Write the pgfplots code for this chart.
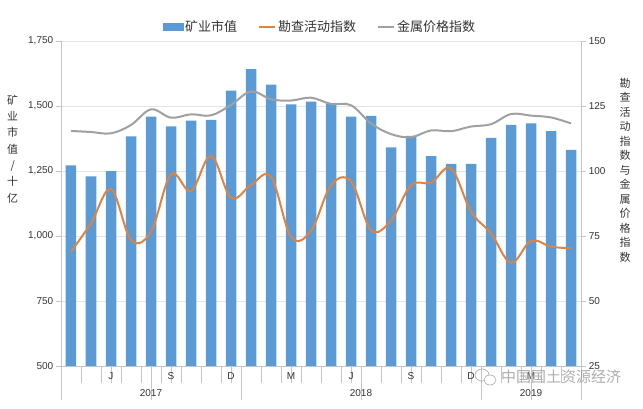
\documentclass[border=0pt]{standalone}
\usepackage{fontspec}
\setmainfont{Liberation Sans}
\newfontfamily\cjk{Noto Sans CJK SC}
\usepackage{pgfplots}
\pgfplotsset{compat=1.18}
\definecolor{barblue}{HTML}{5B9BD5}
\definecolor{lineorange}{HTML}{DC8443}
\definecolor{linegray}{HTML}{A0A0A0}
\definecolor{gridc}{HTML}{E4E4E4}
\definecolor{axc}{HTML}{C4C4C4}
\definecolor{txt}{HTML}{333333}

\pgfplotstableread{
x v
1 1272
2 1229
3 1250
4 1383
5 1459
6 1422
7 1444
8 1447
9 1559
10 1642
11 1582
12 1506
13 1517
14 1510
15 1459
16 1462
17 1341
18 1385
19 1307
20 1277
21 1277
22 1377
23 1427
24 1433
25 1403
26 1331
}\bars
\pgfplotstableread{
x v
1 69.0
2 79.9
3 93.0
4 73.5
5 76.7
6 98.7
7 92.3
8 105.8
9 89.7
10 94.6
11 97.8
12 74.7
13 77.0
14 94.5
15 96.0
16 77.3
17 81.0
18 94.5
19 95.5
20 101.0
21 84.4
22 76.0
23 64.7
24 73.1
25 70.9
26 70.3
}\explore
\pgfplotstableread{
x v
1 115.4
2 115.0
3 114.5
4 117.7
5 123.7
6 120.5
7 121.8
8 121.4
9 125.4
10 130.6
11 127.6
12 127.1
13 128.2
14 125.8
15 125.3
16 118.3
17 114.2
18 113.0
19 115.6
20 115.3
21 117.1
22 118.0
23 121.9
24 121.3
25 120.6
26 118.3
}\metal

\begin{document}
\begin{tikzpicture}
\path[use as bounding box] (-61pt,-42pt) rectangle (582pt,366pt);
\begin{axis}[
  at={(0pt,0pt)}, anchor=south west,
  scale only axis, width=520pt, height=325pt,
  xmin=0.5, xmax=26.5, ymin=500, ymax=1750,
  axis x line*=bottom, axis y line*=left,
  axis line style={axc, line width=0.7pt},
  ytick={500,750,...,1750},
  ymajorgrids, grid style={gridc, line width=0.6pt},
  /pgf/number format/assume math mode=true,
  /pgf/number format/1000 sep={,},
  tick label style={font=\fontsize{10}{12}\selectfont, text=txt},
  tick align=outside,
  ytick style={axc, line width=0.6pt, /pgfplots/major tick length=5pt},
  xtick={1.5,2.5,...,25.5}, xticklabels={},
  xtick style={axc, line width=0.6pt, /pgfplots/major tick length=17pt},
  extra x ticks={3,6,9,12,15,18,21,24},
  extra x tick labels={J,S,D,M,J,S,D,M},
  extra x tick style={/pgfplots/major tick length=0pt, xticklabel style={anchor=center, yshift=-9.7pt}},
  ybar, bar width=10.5pt,
]
\addplot[fill=barblue, draw=none] table[x=x, y=v] {\bars};
\end{axis}
\begin{axis}[
  at={(0pt,0pt)}, anchor=south west,
  scale only axis, width=520pt, height=325pt,
  xmin=0.5, xmax=26.5, ymin=25, ymax=150,
  axis x line*=bottom, axis y line*=right,
  axis line style={axc, line width=0.7pt},
  ytick={25,50,...,150},
  /pgf/number format/assume math mode=true,
  tick label style={font=\fontsize{10}{12}\selectfont, text=txt},
  tick align=outside,
  ytick style={axc, line width=0.6pt, /pgfplots/major tick length=5pt},
  xtick={0.5,9.5,21.5,26.5}, xticklabels={},
  xtick style={axc, line width=0.6pt, /pgfplots/major tick length=34pt},
  extra x ticks={5,15.5,24},
  extra x tick labels={2017,2018,2019},
  extra x tick style={/pgfplots/major tick length=0pt, xticklabel style={anchor=center, yshift=-27pt}},
  legend columns=3,
  legend style={draw=none, fill=none, at={(0.498,1.043)}, anchor=center,
    font=\cjk\fontsize{13}{15}\selectfont, text=txt,
    /tikz/every even column/.append style={column sep=19pt}},
]
\addlegendimage{legend image code/.code={\fill[barblue] (0pt,-3.5pt) rectangle (20pt,3.5pt);}}
\addlegendentry{矿业市值}
\addplot[lineorange, line width=2pt, smooth, tension=0.6,
  legend image code/.code={\draw[lineorange, line width=2pt] (0pt,0pt) -- (16pt,0pt);}]
  table[x=x, y=v] {\explore};
\addlegendentry{勘查活动指数}
\addplot[linegray, line width=2pt, smooth, tension=0.6,
  legend image code/.code={\draw[linegray, line width=2pt] (0pt,0pt) -- (16pt,0pt);}]
  table[x=x, y=v] {\metal};
\addlegendentry{金属价格指数}
\end{axis}
\node[font=\cjk\fontsize{11}{16.3}\selectfont, align=center, text=txt] at (-48.3pt,217pt) {矿\\业\\市\\值\\/\\十\\亿};
\node[font=\cjk\fontsize{11}{14.5}\selectfont, align=center, text=txt] at (564pt,196pt) {勘\\查\\活\\动\\指\\数\\与\\金\\属\\价\\格\\指\\数};
\node[font=\cjk\fontsize{15}{15}\selectfont, text=black!40, opacity=0.8] at (500pt,-11pt) {中国国土资源经济};
\draw[black!35, line width=0.6pt] (421pt,-9pt) ellipse (7pt and 6pt);
\draw[black!35, line width=0.6pt, fill=white] (429pt,-14pt) ellipse (6pt and 5pt);
\end{tikzpicture}
\end{document}
